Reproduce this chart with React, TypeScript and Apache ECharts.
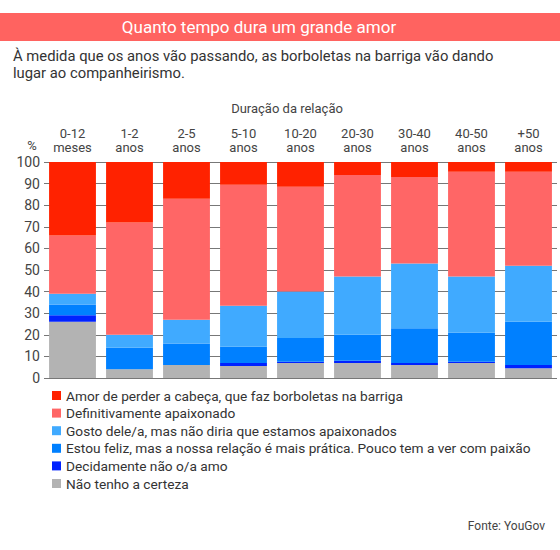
import React, { useEffect, useRef } from "react";
import * as echarts from "echarts";

const categories = [
  "0-12\nmeses",
  "1-2\nanos",
  "2-5\nanos",
  "5-10\nanos",
  "10-20\nanos",
  "20-30\nanos",
  "30-40\nanos",
  "40-50\nanos",
  "+50\nanos",
];

const yTicks = [0, 10, 20, 30, 40, 50, 60, 70, 80, 90, 100];

const naoTenho = [26, 4, 6, 5.5, 7, 7, 6, 7, 4.5];
const decidamente = [3, 0, 0, 1.5, 0.5, 1, 1, 0.5, 1.5];
const estouFeliz = [5, 10, 10, 7.5, 11, 12, 16, 13.5, 20];
const gosto = [5, 6, 11, 19, 21.5, 27, 30, 26, 26];
const definitivamente = [27, 52, 56, 56, 48.5, 47, 40, 48.5, 43.5];
const amorPerder = [34, 28, 17, 10.5, 11.5, 6, 7, 4.5, 4.5];

const seriesNames = [
  "Não tenho a certeza",
  "Decidamente não o/a amo",
  "Estou feliz, mas a nossa relação é mais prática. Pouco tem a ver com paixão",
  "Gosto dele/a, mas não diria que estamos apaixonados",
  "Definitivamente apaixonado",
  "Amor de perder a cabeça, que faz borboletas na barriga",
];
const seriesData = [naoTenho, decidamente, estouFeliz, gosto, definitivamente, amorPerder];
const seriesColors = ["#b3b3b3", "#0022ff", "#0080ff", "#40aaff", "#ff6666", "#ff2200"];

const FONT = "Roboto, 'Noto Sans', sans-serif";

export default function App() {
  const ref = useRef<HTMLDivElement>(null);

  useEffect(() => {
    if (!ref.current) return;
    const chart = echarts.init(ref.current, null, { renderer: "svg" });
    const option: any = {
      animation: false,
      backgroundColor: "#ffffff",
      textStyle: { fontFamily: FONT },
      grid: { left: 44, right: 3, top: 162, bottom: 172, containLabel: false },
      xAxis: {
        type: "category",
        position: "top",
        data: categories,
        axisLine: { show: false },
        axisTick: { show: false },
        axisLabel: {
          color: "#444",
          fontSize: 13,
          lineHeight: 14,
          margin: 8,
          fontFamily: FONT,
        },
      },
      yAxis: {
        type: "value",
        min: 0,
        max: 100,
        interval: 10,
        axisLine: { show: false },
        axisTick: { show: false },
        axisLabel: {
          color: "#444",
          fontSize: 14,
          margin: 4,
          fontFamily: FONT,
          formatter: (v: number) => (yTicks.includes(v) ? String(v) : ""),
        },
        splitLine: { show: true, lineStyle: { color: "#777", width: 1 } },
      },
      legend: {
        orient: "vertical",
        left: 47,
        top: 382.5,
        itemWidth: 9,
        itemHeight: 9,
        itemGap: 1.6,
        icon: "rect",
        selectedMode: false,
        data: [...seriesNames].reverse(),
        textStyle: { color: "#333", fontSize: 13.7, lineHeight: 16, fontFamily: FONT },
      },
      series: seriesNames.map((name, i) => ({
        name,
        type: "bar",
        stack: "total",
        barCategoryGap: "17.8%",
        data: seriesData[i],
        itemStyle: { color: seriesColors[i] },
        emphasis: { disabled: true },
      })),
      graphic: [
        {
          type: "rect",
          left: 0,
          top: 13,
          shape: { width: 560, height: 28 },
          style: { fill: "#ff6360" },
        },
        {
          type: "text",
          x: 259,
          y: 27,
          style: {
            text: "Quanto tempo dura um grande amor",
            fill: "#ffffff",
            fontSize: 17,
            fontFamily: FONT,
            align: "center",
            verticalAlign: "middle",
          },
        },
        {
          type: "text",
          x: 13,
          y: 64.5,
          style: {
            text:
              "À medida que os anos vão passando, as borboletas na barriga vão dando\nlugar ao companheirismo.",
            fill: "#333",
            fontSize: 14.8,
            lineHeight: 17,
            fontFamily: FONT,
            align: "left",
            verticalAlign: "middle",
          },
        },
        {
          type: "text",
          x: 287,
          y: 108,
          style: {
            text: "Duração da relação",
            fill: "#444",
            fontSize: 13,
            fontFamily: FONT,
            align: "center",
            verticalAlign: "middle",
          },
        },
        {
          type: "text",
          x: 32,
          y: 145,
          style: {
            text: "%",
            fill: "#444",
            fontSize: 13,
            fontFamily: FONT,
            align: "center",
            verticalAlign: "middle",
          },
        },
        {
          type: "text",
          x: 545,
          y: 526,
          style: {
            text: "Fonte: YouGov",
            fill: "#444",
            fontSize: 12,
            fontFamily: FONT,
            align: "right",
            verticalAlign: "middle",
          },
        },
      ],
    };
    chart.setOption(option);
    return () => chart.dispose();
  }, []);

  return (
    <div
      ref={ref}
      style={{ position: "fixed", left: 0, top: 0, width: 560, height: 550 }}
    />
  );
}
